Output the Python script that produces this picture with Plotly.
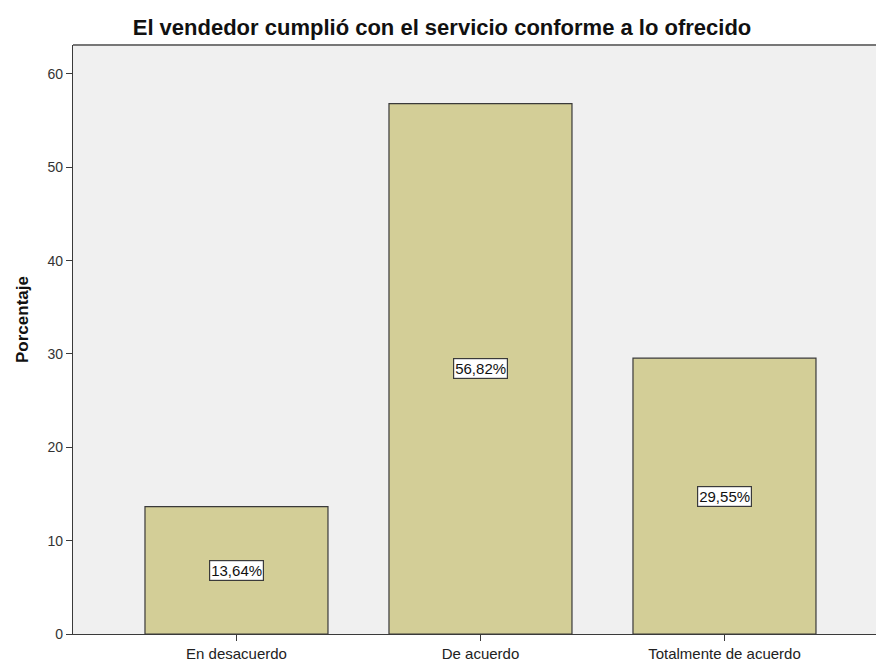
import plotly.graph_objects as go

# Survey responses: share of respondents per answer
categories = ["En desacuerdo", "De acuerdo", "Totalmente de acuerdo"]
percentages = [13.64, 56.82, 29.55]
value_labels = ["13,64%", "56,82%", "29,55%"]
y_ticks = [0, 10, 20, 30, 40, 50, 60]

BAR_COLOR = "#D3CE97"
EDGE = "#3a3a3a"
FONT = "Liberation Sans, Arial, sans-serif"

L, R, T, B = 73, 0, 45, 30
W, H = 876, 664
PW, PH = W - L - R, H - T - B

fig = go.Figure()
fig.add_trace(go.Bar(
    x=list(range(len(categories))),
    y=percentages,
    width=0.75,
    marker=dict(color=BAR_COLOR, line=dict(color=EDGE, width=1.2)),
    hoverinfo="skip",
))

# Value boxes at mid-height of each bar
for i, (v, lab) in enumerate(zip(percentages, value_labels)):
    fig.add_annotation(
        x=i, y=v / 2, text=lab, showarrow=False,
        font=dict(family=FONT, size=15, color="#111"),
        bgcolor="white", bordercolor=EDGE, borderwidth=1.2, borderpad=1,
    )

# Vertical axis title
fig.add_annotation(
    xref="paper", yref="paper",
    x=(22 - L) / PW, y=(H - B - 320) / PH,
    xanchor="center", yanchor="middle",
    text="<b>Porcentaje</b>", textangle=-90, showarrow=False,
    font=dict(family=FONT, size=17, color="#111"),
)

fig.update_layout(
    width=W, height=H,
    margin=dict(l=L, r=R, t=T, b=B),
    paper_bgcolor="white",
    plot_bgcolor="#F0F0F0",
    showlegend=False,
    bargap=0.25,
    title=dict(
        text="<b>El vendedor cumplió con el servicio conforme a lo ofrecido</b>",
        x=442 / W, xanchor="center", y=1 - 27 / H, yanchor="middle",
        font=dict(family=FONT, size=22, color="#111"),
    ),
    font=dict(family=FONT, size=14, color="#222"),
)

fig.update_xaxes(
    range=[-0.67, 2.621],
    tickmode="array", tickvals=list(range(len(categories))), ticktext=categories,
    ticks="outside", ticklen=6, tickcolor=EDGE, tickwidth=1,
    showline=True, linecolor=EDGE, linewidth=1.2,
    showgrid=False, zeroline=False,
    tickfont=dict(family=FONT, size=15, color="#222"),
    fixedrange=True,
)
fig.update_yaxes(
    range=[0, 63.1],
    tickmode="array", tickvals=y_ticks,
    ticks="outside", ticklen=6, tickcolor=EDGE, tickwidth=1,
    showline=True, linecolor=EDGE, linewidth=1.2,
    showgrid=False, zeroline=False,
    tickfont=dict(family=FONT, size=14, color="#333"),
    fixedrange=True,
)

# Top border of the plot frame
fig.add_shape(type="line", xref="paper", yref="paper", x0=0, x1=1, y0=1, y1=1,
              line=dict(color="#777", width=2))

fig.write_html("out.html")
